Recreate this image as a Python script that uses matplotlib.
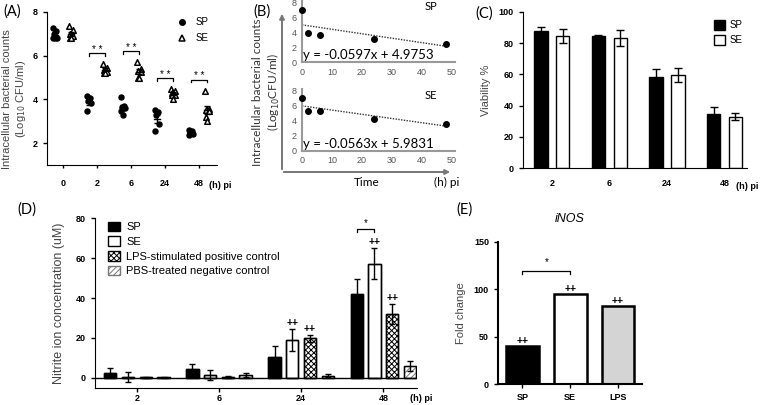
import matplotlib
matplotlib.use('Agg')
import matplotlib.pyplot as plt
import numpy as np
from matplotlib.patches import Patch, FancyArrowPatch
from matplotlib.lines import Line2D

plt.rcParams['font.family'] = ['Liberation Sans', 'DejaVu Sans']
plt.rcParams['hatch.linewidth'] = 0.7

# ---- data ----
# (A) intracellular bacterial counts, log10 CFU/ml, individual wells
a_times = ['0', '2', '6', '24', '48']
a_sp = [[7.25, 7.1, 7.0, 6.8, 6.8, 6.8],
        [4.15, 4.05, 3.9, 3.85, 3.45],
        [4.1, 3.7, 3.65, 3.6, 3.45, 3.3],
        [3.5, 3.4, 3.3, 2.85, 2.55],
        [2.6, 2.55, 2.45, 2.4, 2.35]]
a_se = [[7.35, 7.15, 7.0, 6.9, 6.8, 6.8],
        [5.6, 5.45, 5.35, 5.25, 5.2, 5.2],
        [5.7, 5.4, 5.3, 5.25, 4.95, 4.95],
        [4.45, 4.4, 4.3, 4.2, 4.2, 4.0],
        [4.4, 3.55, 3.5, 3.45, 3.2, 3.0]]
a_stars = ['', '* *', '* *', '* *', '* *']

# (B) time course of the means + linear fits
b_time = [0, 2, 6, 24, 48]
b_fit_sp = (-0.0597, 4.9753)
b_fit_se = (-0.0563, 5.9831)

# (C) viability %
c_times = ['2', '6', '24', '48']
c_sp = [87.5, 84.2, 58.1, 34.9]
c_sp_err = [2.8, 1.2, 5.3, 4.2]
c_se = [84.5, 83.2, 59.6, 33.0]
c_se_err = [4.2, 5.1, 4.6, 2.2]

# (D) nitrite ion concentration (uM)
d_times = ['2', '6', '24', '48']
d_sp = [2.6, 4.2, 10.5, 42.2]
d_sp_err = [2.4, 2.6, 5.5, 7.1]
d_se = [0.4, 1.4, 18.8, 57.3]
d_se_err = [2.3, 2.4, 5.6, 7.8]
d_lps = [0.3, 0.4, 19.8, 32.2]
d_lps_err = [0.3, 0.3, 1.7, 5.0]
d_pbs = [0.2, 1.3, 1.0, 5.7]
d_pbs_err = [0.3, 1.1, 0.8, 2.5]
d_labels = ['SP', 'SE', 'LPS-stimulated positive control', 'PBS-treated negative control']
d_plus = [['', '', '', ''], ['', '', '++', '++'], ['', '', '++', '++'], ['', '', '', '']]

# (E) iNOS fold change
e_groups = ['SP', 'SE', 'LPS']
e_fold = [40, 95, 82]
e_plus = ['++', '++', '++']

W, H = 760, 405
fig = plt.figure(figsize=(7.6, 4.05), dpi=100)


def px_axes(x0, y0, x1, y1):
    return fig.add_axes([x0 / W, 1 - y1 / H, (x1 - x0) / W, (y1 - y0) / H])


def plain(ax):
    ax.spines['top'].set_visible(False)
    ax.spines['right'].set_visible(False)
    ax.tick_params(labelsize=6.5, width=1, length=3)
    for lab in ax.get_xticklabels() + ax.get_yticklabels():
        lab.set_fontweight('bold')


def bracket(ax, x0, x1, y, drop, text, dy):
    ax.plot([x0, x0, x1, x1], [y - drop, y, y, y - drop], color='black', lw=0.9)
    ax.text((x0 + x1) / 2, y + dy, text, ha='center', va='center', fontsize=7)


# ---------------- (A) ----------------
axA = px_axes(47, 11.7, 217, 165)
pos = np.arange(len(a_times))
jit = np.array([-0.05, 0.04, -0.02, 0.05, -0.04, 0.01])
a_sp_mean, a_se_mean = [], []
for i in pos:
    sp = np.array(a_sp[i])
    se = np.array(a_se[i])
    axA.scatter(i - 0.24 + jit[:len(sp)], sp, marker='o', s=13, color='black', zorder=3)
    axA.scatter(i + 0.24 + jit[:len(se)], se, marker='^', s=16, facecolor='white',
                edgecolor='black', linewidth=1.1, zorder=3)
    for off, vals in ((-0.24, sp), (0.24, se)):
        m = vals.mean()
        sem = vals.std(ddof=1) / np.sqrt(len(vals))
        axA.plot([i + off - 0.09, i + off + 0.09], [m, m], color='black', lw=1, zorder=4)
        axA.errorbar(i + off, m, yerr=sem, color='black', capsize=2, lw=1, zorder=4)
    a_sp_mean.append(sp.mean())
    a_se_mean.append(se.mean())
    if a_stars[i]:
        bracket(axA, i - 0.24, i + 0.24, se.max() + 0.5, 0.12, a_stars[i], 0.15)
axA.set_xlim(-0.47, 4.53)
axA.set_ylim(1, 8)
axA.set_yticks([2, 4, 6, 8])
axA.set_xticks(pos, a_times)
plain(axA)
axA.tick_params(axis='x', length=2, pad=8)
axA.set_ylabel('Intracellular bacterial counts\n(Log$_{10}$ CFU/ml)', fontsize=8, color='#444')
axA.yaxis.set_label_coords(-0.11, 0.43)
axA.annotate('(h) pi', xy=(4, 0), xycoords=('data', 'axes fraction'), xytext=(7, -15),
             textcoords='offset points', ha='left', va='center', fontsize=6.5, fontweight='bold')
axA.legend([Line2D([], [], marker='o', ls='', color='black', ms=4),
            Line2D([], [], marker='^', ls='', mfc='white', mec='black', ms=4.5, mew=1.1)],
           ['SP', 'SE'], loc='upper right', bbox_to_anchor=(1.0, 1.02), frameon=False,
           fontsize=7, handletextpad=0.4, labelspacing=0.6)

# ---------------- (B) ----------------
b_sets = [(a_sp_mean, b_fit_sp, 'SP', 0, 62), (a_se_mean, b_fit_se, 'SE', 88.5, 150.7)]
for vals, fit, name, ytop, ybot in b_sets:
    ax = px_axes(302, ytop, 455, ybot)
    ax.scatter(b_time, vals, s=16, color='black', zorder=3, clip_on=False)
    xx = np.array([0, 48])
    ax.plot(xx, fit[0] * xx + fit[1], ls=(0, (1, 1)), color='#333', lw=1)
    ax.set_xlim(0, 51)
    ax.set_ylim(0, 8.3)
    ax.set_xticks([0, 10, 20, 30, 40, 50])
    ax.set_yticks([0, 2, 4, 6, 8])
    for s in ('top', 'right'):
        ax.spines[s].set_visible(False)
    for s in ('left', 'bottom'):
        ax.spines[s].set_color('#999')
        ax.spines[s].set_linewidth(1.5)
    ax.tick_params(length=0, labelsize=6.5, labelcolor='#555', pad=4)
    ax.text(0.3, 0.95, 'y = %.4fx + %.4f' % fit, fontsize=9.5, va='center', family='Lato')
    ax.text(43, 7.4, name, fontsize=8, va='center', ha='center', family='Lato')
    ax.patch.set_alpha(0)

fig.add_artist(FancyArrowPatch((282 / W, 1 - 172 / H), (282 / W, 1 - 11 / H), transform=fig.transFigure,
                               arrowstyle='-|>', mutation_scale=7, color='#777', lw=1.4))
fig.add_artist(FancyArrowPatch((281 / W, 1 - 172 / H), (453 / W, 1 - 172 / H), transform=fig.transFigure,
                               arrowstyle='-|>', mutation_scale=7, color='#777', lw=1.4))
fig.text(367 / W, 1 - 182 / H, 'Time', fontsize=8.5, ha='center', va='center', family='Lato')
fig.text(447 / W, 1 - 182 / H, '(h) pi', fontsize=8.5, ha='center', va='center', family='Lato')
fig.text(267 / W, 1 - 92 / H, 'Intracellular bacterial counts\n(Log$_{10}$CFU/ml)', fontsize=8.5,
         ha='center', va='center', rotation=90, family='Lato', color='#333', linespacing=1.3)

# ---------------- (C) ----------------
axC = px_axes(523, 11.7, 747, 168.3)
pos = np.arange(len(c_times))
ek = dict(lw=1, capthick=1, ecolor='black')
axC.bar(pos - 0.19, c_sp, 0.235, color='black', edgecolor='black', yerr=c_sp_err, capsize=3,
        error_kw=ek, label='SP')
axC.bar(pos + 0.19, c_se, 0.235, color='white', edgecolor='black', lw=1, yerr=c_se_err, capsize=3,
        error_kw=ek, label='SE')
axC.set_xlim(-0.5, 3.39)
axC.set_ylim(0, 100)
axC.set_yticks([0, 20, 40, 60, 80, 100])
axC.set_xticks(pos, c_times)
plain(axC)
axC.tick_params(axis='x', length=0, pad=8)
axC.set_ylabel('Viability %', fontsize=8, color='#444', labelpad=6)
axC.annotate('(h) pi', xy=(3, 0), xycoords=('data', 'axes fraction'), xytext=(8, -13),
             textcoords='offset points', ha='left', va='center', fontsize=6.5, fontweight='bold')
axC.legend(loc='upper right', bbox_to_anchor=(1.02, 1.0), frameon=False, fontsize=7,
           handlelength=1.1, handleheight=1.1, handletextpad=0.5)

# ---------------- (D) ----------------
axD = px_axes(95, 218.3, 417, 387.7)
pos = np.arange(len(d_times))
step, bw = 0.216, 0.15
d_vals = [d_sp, d_se, d_lps, d_pbs]
d_errs = [d_sp_err, d_se_err, d_lps_err, d_pbs_err]
d_style = [dict(facecolor='black', edgecolor='black'),
           dict(facecolor='white', edgecolor='black'),
           dict(facecolor='white', edgecolor='black', hatch='xxxxxx'),
           dict(facecolor='white', edgecolor='#777', hatch='//////')]
handles = []
for k in range(4):
    xk = pos + (k - 1.5) * step
    axD.bar(xk, d_vals[k], bw, lw=1, zorder=2, **d_style[k])
    axD.bar(xk, d_vals[k], bw, fill=False, edgecolor='black', lw=1, zorder=2,
            yerr=d_errs[k], capsize=2.5, error_kw=ek)
    handles.append(Patch(lw=1, **d_style[k]))
    for j in pos:
        if d_plus[k][j]:
            axD.text(xk[j], d_vals[k][j] + d_errs[k][j] + 3, d_plus[k][j], ha='center',
                     va='center', fontsize=7.5, fontweight='bold')
axD.axhline(0, color='black', lw=1, zorder=3)
bracket(axD, 3 - 1.5 * step, 3 - 0.5 * step, 74.5, 1.5, '*', 3)
axD.set_xlim(-0.51, 3.41)
axD.set_ylim(-5, 80)
axD.set_yticks([0, 20, 40, 60, 80])
axD.set_xticks(pos, d_times)
plain(axD)
axD.tick_params(axis='x', length=3, pad=1.5)
axD.set_ylabel('Nitrite ion concentration (uM)', fontsize=9, color='#444', labelpad=8)
axD.annotate('(h) pi', xy=(3, 0), xycoords=('data', 'axes fraction'), xytext=(19, -8),
             textcoords='offset points', ha='left', va='center', fontsize=6.5, fontweight='bold')
axD.legend(handles, d_labels, loc='upper left', bbox_to_anchor=(0.01, 1.04), frameon=False,
           fontsize=8, handlelength=1.1, handleheight=1.0, handletextpad=0.5, labelspacing=0.35)

# ---------------- (E) ----------------
axE = px_axes(498, 241.7, 642, 384)
pos = np.arange(len(e_groups))
axE.bar(pos, e_fold, 0.68, color=['black', 'white', '#d4d4d4'], edgecolor='black', lw=1.8)
for j in pos:
    axE.text(j, e_fold[j] + 5, e_plus[j], ha='center', va='center', fontsize=7.5, fontweight='bold')
bracket(axE, 0, 1, 119, 3, '*', 9)
axE.set_xlim(-0.51, 2.5)
axE.set_ylim(0, 150)
axE.set_yticks([0, 50, 100, 150])
axE.set_xticks(pos, e_groups)
plain(axE)
for s in ('left', 'bottom'):
    axE.spines[s].set_linewidth(1.5)
axE.set_ylabel('Fold change', fontsize=8, color='#444', labelpad=6)
axE.set_title('iNOS', fontsize=9, style='italic', pad=14)

# panel letters
for lab, x, y in [('(A)', 12, 12), ('(B)', 262, 12), ('(C)', 484, 14), ('(D)', 27, 210), ('(E)', 465, 210)]:
    fig.text(x / W, 1 - y / H, lab, fontsize=10.5, ha='center', va='center', family='Lato')

fig.savefig('out.png', dpi=100)
